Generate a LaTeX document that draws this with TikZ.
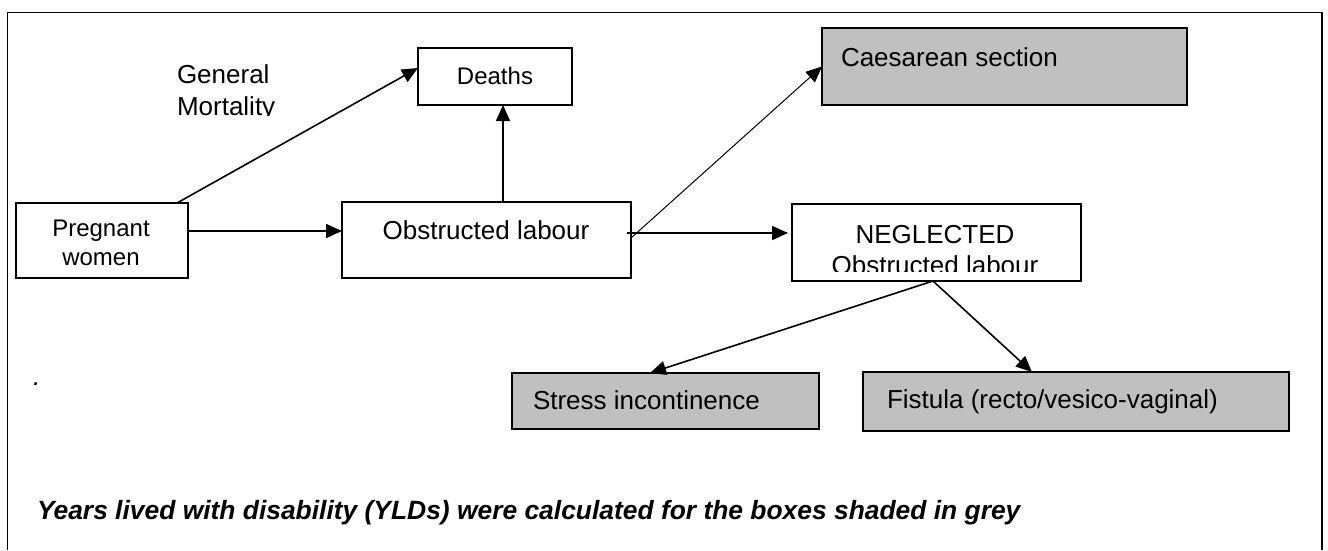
\documentclass[tikz,border=0pt]{standalone}
\usepackage{fontspec}
\setmainfont{Liberation Sans}
\usetikzlibrary{arrows.meta}
\definecolor{boxgrey}{HTML}{C0C0C0}
\begin{document}
\begin{tikzpicture}[x=1pt,y=-1pt,
  box/.style={draw,line width=1.6pt,inner sep=0pt,outer sep=0pt},
  greybox/.style={box,fill=boxgrey},
  big/.style={inner sep=0pt,outer sep=0pt,font=\fontsize{26}{31}\selectfont},
  small/.style={inner sep=0pt,outer sep=0pt,font=\fontsize{24}{29}\selectfont},
  arr/.style={-{Triangle[length=16pt,width=14pt]},line width=1.6pt},
  thinarr/.style={-{Triangle[length=16pt,width=14pt]},line width=1pt}
]
\useasboundingbox (0,0) rectangle (1328,550);
% outer frame
\draw[line width=1.8pt] (7.5,550) -- (7.5,12.5) -- (1322,12.5) -- (1322,550);

% boxes
\node[box,minimum width=172pt,minimum height=75pt] (preg) at (102,240.5) {};
\node[box,minimum width=289pt,minimum height=76pt] (obs) at (486.5,240) {};
\node[box,minimum width=154pt,minimum height=57pt] (deaths) at (495,76.5) {};
\node[greybox,minimum width=365pt,minimum height=77pt] (caes) at (1004.5,66.5) {};
\node[box,minimum width=289pt,minimum height=77pt] (negl) at (936.5,242.5) {};
\node[greybox,minimum width=307pt,minimum height=56pt] (stress) at (665.5,401) {};
\node[greybox,minimum width=426pt,minimum height=59pt] (fist) at (1076,401.5) {};

% texts
\node[small,anchor=base] (pregA) at (101,236) {Pregnant};
\node[small,anchor=base] (pregB) at (101,265) {women};
\node[big,anchor=base] (obsT) at (486,239) {Obstructed labour};
\node[small,anchor=base] (deathsT) at (495,84) {Deaths};
\node[big,anchor=base west] (caesT) at (841,66) {Caesarean section};
\node[big,anchor=base] (neglA) at (935,243) {NEGLECTED};
\begin{scope}
  \clip (800,245) rectangle (1075,271);
  \node[big,anchor=base] (neglB) at (935,274) {Obstructed labour};
\end{scope}
\node[big,anchor=base west] (stressT) at (533,409) {Stress incontinence};
\node[big,anchor=base west] (fistT) at (887,408) {Fistula (recto/vesico-vaginal)};
\node[big,anchor=base west] (genA) at (177,83) {General};
\begin{scope}
  \clip (170,88) rectangle (300,115);
  \node[big,anchor=base west] (genB) at (177,115) {Mortality};
\end{scope}
\node[big,anchor=base west] (dot) at (33,385) {\itshape .};
\node[inner sep=0pt,outer sep=0pt,font=\fontsize{26.4}{31}\selectfont,anchor=base west] (caption) at (37,519) {\bfseries\itshape Years lived with disability (YLDs) were calculated for the boxes shaded in grey};

% connectors
\draw[arr] ([xshift=75pt]preg.north) -- ([yshift=8.5pt]deaths.west);
\draw[arr] ([yshift=9.5pt]preg.east) -- ([yshift=9.5pt]preg.east -| obs.west);
\draw[arr] ([xshift=16.5pt]obs.north) -- ([xshift=16.5pt]obs.north |- deaths.south);
\draw[thinarr] ([yshift=2pt]obs.east) -- (caes.west);
\draw[arr] ([xshift=-4pt,yshift=7pt]obs.east) -- ([xshift=-4pt,yshift=7pt]obs.east -| negl.west);
\draw[arr] ([xshift=-3.5pt]negl.south) -- ([xshift=-15.5pt]stress.north);
\draw[arr] ([xshift=-3.5pt]negl.south) -- ([xshift=-44pt]fist.north);
\end{tikzpicture}
\end{document}
